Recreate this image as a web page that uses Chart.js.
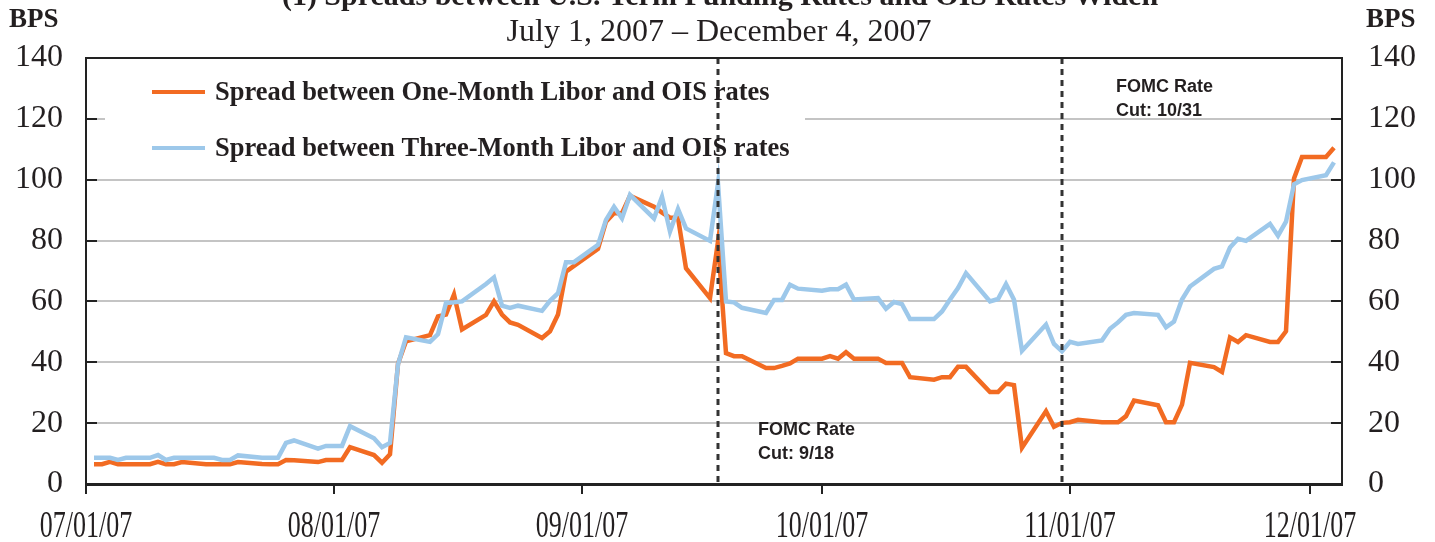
<!DOCTYPE html>
<html>
<head>
<meta charset="utf-8">
<script src="https://cdn.jsdelivr.net/npm/chart.js@4.4.0/dist/chart.umd.min.js"></script>
<style>
  html, body { margin: 0; padding: 0; background: #fff; }
  #wrap { width: 1435px; height: 542px; }
</style>
</head>
<body>
<div id="wrap"><canvas id="graph" width="1435" height="542"></canvas></div>
<script>
// data (bps)
const dates = [
  '2007-07-02','2007-07-03','2007-07-04','2007-07-05','2007-07-06',
  '2007-07-09','2007-07-10','2007-07-11','2007-07-12','2007-07-13',
  '2007-07-16','2007-07-17','2007-07-18','2007-07-19','2007-07-20',
  '2007-07-23','2007-07-24','2007-07-25','2007-07-26','2007-07-27',
  '2007-07-30','2007-07-31','2007-08-01','2007-08-02','2007-08-03',
  '2007-08-06','2007-08-07','2007-08-08','2007-08-09','2007-08-10',
  '2007-08-13','2007-08-14','2007-08-15','2007-08-16','2007-08-17',
  '2007-08-20','2007-08-21','2007-08-22','2007-08-23','2007-08-24',
  '2007-08-27','2007-08-28','2007-08-29','2007-08-30','2007-08-31',
  '2007-09-03','2007-09-04','2007-09-05','2007-09-06','2007-09-07',
  '2007-09-10','2007-09-11','2007-09-12','2007-09-13','2007-09-14',
  '2007-09-17','2007-09-18','2007-09-19','2007-09-20','2007-09-21',
  '2007-09-24','2007-09-25','2007-09-26','2007-09-27','2007-09-28',
  '2007-10-01','2007-10-02','2007-10-03','2007-10-04','2007-10-05',
  '2007-10-08','2007-10-09','2007-10-10','2007-10-11','2007-10-12',
  '2007-10-15','2007-10-16','2007-10-17','2007-10-18','2007-10-19',
  '2007-10-22','2007-10-23','2007-10-24','2007-10-25','2007-10-26',
  '2007-10-29','2007-10-30','2007-10-31','2007-11-01','2007-11-02',
  '2007-11-05','2007-11-06','2007-11-07','2007-11-08','2007-11-09',
  '2007-11-12','2007-11-13','2007-11-14','2007-11-15','2007-11-16',
  '2007-11-19','2007-11-20','2007-11-21','2007-11-22','2007-11-23',
  '2007-11-26','2007-11-27','2007-11-28','2007-11-29','2007-11-30',
  '2007-12-03','2007-12-04'
];
const oneMonth = [
  6.5, 6.5, 7.3, 6.5, 6.5,
  6.5, 7.3, 6.5, 6.5, 7.2,
  6.5, 6.5, 6.5, 6.5, 7.2,
  6.6, 6.5, 6.5, 7.9, 7.8,
  7.2, 7.9, 7.9, 7.9, 12.1,
  9.5, 7.0, 9.8, 39.5, 46.9,
  48.9, 55.1, 55.7, 62.3, 50.8,
  55.6, 60.0, 55.7, 53.1, 52.3,
  48.0, 50.2, 55.7, 69.8, 71.7,
  77.3, 86.2, 89.0, 89.0, 94.7,
  91.1, 89.2, 87.5, 87.5, 70.9,
  61.1, 79.7, 43.0, 42.0, 42.0,
  38.1, 38.1, 38.8, 39.6, 41.2,
  41.2, 42.0, 41.2, 43.3, 41.2,
  41.2, 39.8, 39.8, 39.8, 35.1,
  34.3, 35.1, 35.1, 38.5, 38.5,
  30.2, 30.2, 33.0, 32.5, 11.9,
  23.9, 18.8, 20.1, 20.3, 21.1,
  20.3, 20.3, 20.3, 22.3, 27.4,
  25.9, 20.3, 20.3, 26.1, 39.8,
  38.4, 36.8, 48.2, 46.7, 48.9,
  46.7, 46.7, 50.2, 100.4, 107.5,
  107.5, 110.5
];
const threeMonth = [
  8.6, 8.6, 8.6, 7.9, 8.6,
  8.6, 9.5, 7.9, 8.6, 8.6,
  8.6, 8.6, 7.9, 7.9, 9.4,
  8.6, 8.6, 8.6, 13.5, 14.3,
  11.6, 12.5, 12.5, 12.5, 19.0,
  15.0, 12.1, 13.5, 39.3, 48.2,
  46.7, 49.3, 59.5, 59.7, 60.0,
  65.7, 67.9, 58.6, 57.9, 58.6,
  56.9, 60.2, 62.7, 72.9, 72.9,
  78.6, 86.8, 91.1, 87.3, 95.0,
  87.3, 94.4, 83.0, 90.4, 84.0,
  79.9, 98.8, 60.0, 59.7, 57.9,
  56.2, 60.5, 60.5, 65.5, 64.2,
  63.5, 64.0, 64.0, 65.5, 60.6,
  61.1, 57.6, 59.8, 59.1, 54.2,
  54.2, 56.7, 60.6, 64.4, 69.3,
  60.0, 60.8, 65.7, 60.6, 43.8,
  52.4, 46.0, 43.6, 46.7, 46.0,
  47.2, 51.0, 53.1, 55.6, 56.2,
  55.6, 51.5, 53.4, 60.6, 64.9,
  70.7, 71.5, 77.7, 80.6, 79.9,
  85.5, 81.6, 86.2, 98.5, 99.9,
  101.5, 105.7
];
const seriesNames = [
  'Spread between One-Month Libor and OIS rates',
  'Spread between Three-Month Libor and OIS rates'
];
const tickDates = ['2007-07-01','2007-08-01','2007-09-01','2007-10-01','2007-11-01','2007-12-01'];
const tickLabels = ['07/01/07','08/01/07','09/01/07','10/01/07','11/01/07','12/01/07'];
const yTicks = [0, 20, 40, 60, 80, 100, 120, 140];
const fomcDates = ['2007-09-18', '2007-10-31'];
const fomcLabels = [['FOMC Rate', 'Cut: 9/18'], ['FOMC Rate', 'Cut: 10/31']];
const axisStart = '2007-07-01';
const axisEnd = '2007-12-05';

const title = '(1) Spreads between U.S. Term Funding Rates and OIS Rates Widen';
const subtitle = 'July 1, 2007 \u2013 December 4, 2007';

const ORANGE = '#f26b22';
const BLUE = '#9dc8ea';
const INK = '#231f20';
const SERIF = '"Liberation Serif", "Times New Roman", serif';
const SANS = '"Liberation Sans", Arial, sans-serif';

function dayOf(s) {
  const p = s.split('-').map(Number);
  return (Date.UTC(p[0], p[1] - 1, p[2]) - Date.UTC(2007, 6, 1)) / 86400000;
}

const decor = {
  id: 'decor',
  beforeDatasetsDraw(chart) {
    const c = chart.ctx;
    // legend box sits over the grid
    c.save();
    c.fillStyle = '#fff';
    c.fillRect(105, 63, 700, 110);
    c.lineWidth = 4;
    [[ORANGE, 92], [BLUE, 148]].forEach(([col, y]) => {
      c.strokeStyle = col;
      c.beginPath(); c.moveTo(152, y); c.lineTo(205, y); c.stroke();
    });
    c.restore();
  },
  afterDatasetsDraw(chart) {
    const c = chart.ctx, a = chart.chartArea;
    const xs = chart.scales.x, ys = chart.scales.y;
    c.save();
    // FOMC dotted lines
    c.strokeStyle = '#333';
    c.lineWidth = 3;
    c.setLineDash([6, 5]);
    fomcDates.forEach(d => {
      const x = Math.round(xs.getPixelForValue(dayOf(d)));
      c.beginPath(); c.moveTo(x, a.top); c.lineTo(x, a.bottom); c.stroke();
    });
    c.setLineDash([]);
    // frame top
    c.strokeStyle = '#222';
    c.lineWidth = 2;
    c.beginPath(); c.moveTo(a.left, a.top); c.lineTo(a.right, a.top); c.stroke();
    // inward ticks on both value axes
    yTicks.forEach(v => {
      const y = Math.round(ys.getPixelForValue(v));
      c.beginPath();
      c.moveTo(a.left, y); c.lineTo(a.left + 11, y);
      c.moveTo(a.right - 11, y); c.lineTo(a.right, y);
      c.stroke();
    });
    c.restore();
  },
  afterDraw(chart) {
    const c = chart.ctx;
    const xs = chart.scales.x;
    c.save();
    c.fillStyle = INK;
    c.textAlign = 'center';
    c.textBaseline = 'alphabetic';
    c.font = 'bold 30px ' + SERIF;
    c.fillText(title, 720, 5);
    c.font = '32px ' + SERIF;
    c.fillText(subtitle, 719, 41);
    // date labels are set tall and narrow in the original
    c.font = '26px ' + SERIF;
    c.save();
    c.scale(1, 1.45);
    tickDates.forEach((d, i) => {
      c.fillText(tickLabels[i], xs.getPixelForValue(dayOf(d)), 537 / 1.45);
    });
    c.restore();
    c.textAlign = 'left';
    c.font = 'bold 27px ' + SERIF;
    c.fillText('BPS', 9, 27);
    c.fillText('BPS', 1366, 27);
    c.font = 'bold 26.5px ' + SERIF;
    c.fillText(seriesNames[0], 215, 100);
    c.fillText(seriesNames[1], 215, 156);
    c.font = 'bold 18px ' + SANS;
    const offs = [[40, 435], [54, 92]];
    fomcDates.forEach((d, i) => {
      const x = xs.getPixelForValue(dayOf(d)) + offs[i][0];
      c.fillText(fomcLabels[i][0], x, offs[i][1]);
      c.fillText(fomcLabels[i][1], x, offs[i][1] + 24);
    });
    c.restore();
  }
};

const ctx = document.getElementById('graph').getContext('2d');
const chart = new Chart(ctx, {
  type: 'line',
  data: {
    datasets: [
      {
        label: seriesNames[0],
        data: dates.map((d, i) => ({ x: dayOf(d), y: oneMonth[i] })),
        borderColor: ORANGE,
        borderWidth: 4.5,
        pointRadius: 0,
        tension: 0,
        fill: false,
        order: 1
      },
      {
        label: seriesNames[1],
        data: dates.map((d, i) => ({ x: dayOf(d), y: threeMonth[i] })),
        borderColor: BLUE,
        borderWidth: 4.5,
        pointRadius: 0,
        tension: 0,
        fill: false,
        order: 0
      }
    ]
  },
  options: {
    responsive: false,
    animation: false,
    devicePixelRatio: 1,
    layout: { padding: { top: 58, left: 0, right: 0, bottom: 0 } },
    plugins: {
      legend: { display: false },
      tooltip: { enabled: false },
      title: { display: false }
    },
    scales: {
      x: {
        type: 'linear',
        min: dayOf(axisStart),
        max: dayOf(axisEnd),
        afterBuildTicks: s => { s.ticks = tickDates.map(d => ({ value: dayOf(d) })); },
        afterFit: s => { s.height = 58; },
        grid: { drawOnChartArea: false, drawTicks: true, tickLength: 10, color: '#222', lineWidth: 2 },
        border: { display: true, color: '#222', width: 3 },
        ticks: { display: false, autoSkip: false, maxRotation: 0 }
      },
      y: {
        position: 'left',
        min: 0,
        max: 140,
        afterBuildTicks: s => { s.ticks = yTicks.map(v => ({ value: v })); },
        afterFit: s => { s.width = 86; },
        grid: {
          drawTicks: false,
          lineWidth: 2,
          color: c => (c.tick && (c.tick.value === 0 || c.tick.value === 140)) ? 'rgba(0,0,0,0)' : '#c4c4c4'
        },
        border: { display: true, color: '#222', width: 2 },
        ticks: { padding: 23, color: INK, font: { family: SERIF, size: 32 } }
      },
      y2: {
        position: 'right',
        min: 0,
        max: 140,
        afterBuildTicks: s => { s.ticks = yTicks.map(v => ({ value: v })); },
        afterFit: s => { s.width = 93; },
        grid: { drawOnChartArea: false, drawTicks: false },
        border: { display: true, color: '#222', width: 2 },
        ticks: { padding: 26, color: INK, font: { family: SERIF, size: 32 } }
      }
    }
  },
  plugins: [decor]
});
</script>
</body>
</html>
